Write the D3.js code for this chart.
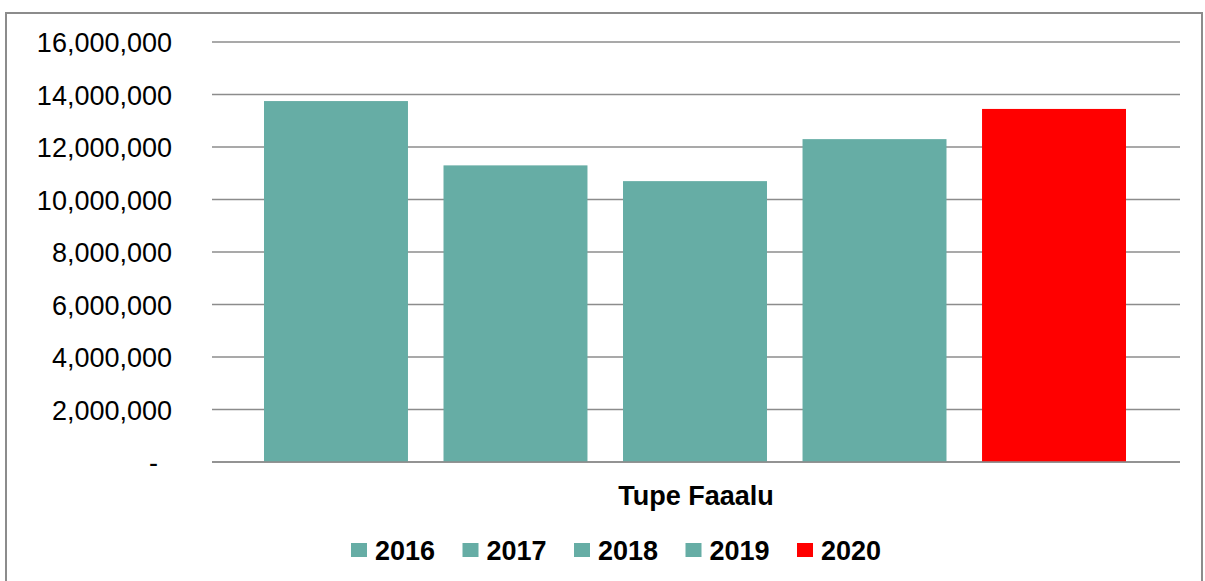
<!DOCTYPE html>
<html>
<head>
<meta charset="utf-8">
<script src="https://cdn.jsdelivr.net/npm/d3@7"></script>
<style>
  body { margin: 0; background: #fff; }
  text { font-family: "Liberation Sans", Arial, sans-serif; }
</style>
</head>
<body>
<div id="chart"></div>
<script>
// values
var years = ["2016", "2017", "2018", "2019", "2020"];
var values = [13750000, 11300000, 10700000, 12300000, 13450000];
var colors = ["#66ada5", "#66ada5", "#66ada5", "#66ada5", "#ff0000"];
var category = "Tupe Faaalu";
var yTicks = [0, 2000000, 4000000, 6000000, 8000000, 10000000, 12000000, 14000000, 16000000];

var width = 1205, height = 581;

var svg = d3.select("#chart")
    .append("svg")
    .attr("width", width)
    .attr("height", height);

// chart border
svg.append("rect")
    .attr("x", 6)
    .attr("y", 13)
    .attr("width", 1196)
    .attr("height", 600)
    .attr("fill", "white")
    .attr("stroke", "#8c8c8c")
    .attr("stroke-width", 2);

var plotLeft = 212, plotRight = 1180;

var y = d3.scaleLinear()
    .domain([0, 16000000])
    .range([462, 42]);

// outer band = the single category, inner band = the years
var x0 = d3.scaleBand()
    .domain([category])
    .range([plotLeft, plotRight]);

var x1 = d3.scaleBand()
    .domain(years)
    .range([x0(category) + 52, x0(category) + x0.bandwidth() - 54])
    .paddingInner(0.198);

// gridlines
svg.append("g")
    .selectAll("line")
    .data(yTicks)
    .enter()
    .append("line")
    .attr("x1", plotLeft)
    .attr("x2", plotRight)
    .attr("y1", d => y(d))
    .attr("y2", d => y(d))
    .attr("stroke", "#8c8c8c")
    .attr("stroke-width", 1.5);

// y axis labels (zero shows as a dash, padded like the accounting format)
var fmt = d3.format(",");
svg.append("g")
    .selectAll("text")
    .data(yTicks)
    .enter()
    .append("text")
    .attr("x", d => d === 0 ? 158 : 172)
    .attr("y", d => y(d) + 10)
    .attr("text-anchor", "end")
    .attr("font-size", "27px")
    .attr("fill", "#000")
    .text(d => d === 0 ? "-" : fmt(d));

// bars
svg.append("g")
    .selectAll("rect")
    .data(values)
    .enter()
    .append("rect")
    .attr("x", (d, i) => x1(years[i]))
    .attr("y", d => y(d))
    .attr("width", x1.bandwidth())
    .attr("height", d => y(0) - y(d))
    .attr("fill", (d, i) => colors[i]);

// x axis baseline
svg.append("line")
    .attr("x1", plotLeft)
    .attr("x2", plotRight)
    .attr("y1", y(0))
    .attr("y2", y(0))
    .attr("stroke", "#8c8c8c")
    .attr("stroke-width", 1.5);

// category label
svg.append("text")
    .attr("x", x0(category) + x0.bandwidth() / 2)
    .attr("y", 505)
    .attr("text-anchor", "middle")
    .attr("font-size", "27px")
    .attr("font-weight", "bold")
    .text(category);

// legend
var legend = svg.append("g")
    .selectAll("g")
    .data(years)
    .enter()
    .append("g")
    .attr("transform", (d, i) => "translate(" + (351 + i * 111.5) + ",543)");

legend.append("rect")
    .attr("width", 16)
    .attr("height", 14)
    .attr("fill", (d, i) => colors[i]);

legend.append("text")
    .attr("x", 24)
    .attr("y", 17)
    .attr("font-size", "27px")
    .attr("font-weight", "bold")
    .text(d => d);
</script>
</body>
</html>
